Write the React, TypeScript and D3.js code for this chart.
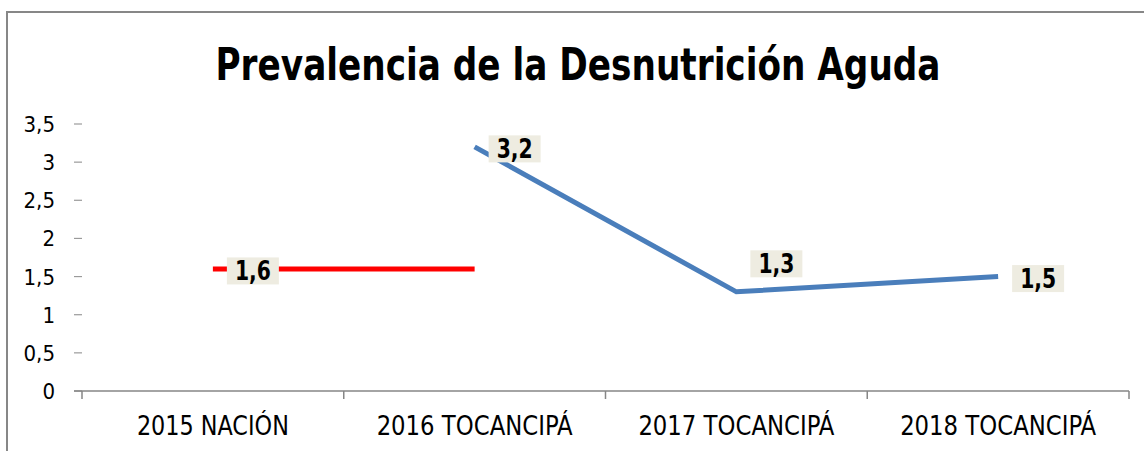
import React from "react";
import * as d3 from "d3";

const categories = ["2015 NACIÓN", "2016 TOCANCIPÁ", "2017 TOCANCIPÁ", "2018 TOCANCIPÁ"];
const nationValues: (number | null)[] = [1.6, 1.6, null, null];
const localValues: (number | null)[] = [null, 3.2, 1.3, 1.5];
const yTicks = [0, 0.5, 1, 1.5, 2, 2.5, 3, 3.5];
const labelsNation = [{ i: 0, v: 1.6, pos: "right" }];
const labelsLocal = [
  { i: 1, v: 3.2, pos: "right" },
  { i: 2, v: 1.3, pos: "above" },
  { i: 3, v: 1.5, pos: "right" },
];
const title = "Prevalencia de la Desnutrición Aguda";

const W = 1144, H = 451;
const FONT = "'DejaVu Sans Condensed', 'DejaVu Sans', sans-serif";

export default function App() {
  const x = d3.scaleBand<string>().domain(categories).range([82, 1129]);
  const y = d3.scaleLinear().domain([0, 3.5]).range([391, 124]);
  const cx = (i: number) => (x(categories[i]) ?? 0) + x.bandwidth() / 2;
  const fmt = (v: number) => String(v).replace(".", ",");

  const line = d3
    .line<number | null>()
    .defined((d) => d !== null)
    .x((_, i) => cx(i))
    .y((d) => y(d as number));

  const tickXs = categories.map((c) => x(c) ?? 0).concat([x.range()[1]]);

  const renderLabel = (l: { i: number; v: number; pos: string }, k: string) => {
    const px = cx(l.i);
    const py = y(l.v);
    const lx = px + 40;
    const ly = l.pos === "above" ? py - 28 : py + 2;
    return (
      <g key={k}>
        <rect x={lx - 26} y={ly - 13.5} width={52} height={27} fill="#EEECE1" />
        <text x={lx} y={ly + 9} textAnchor="middle" fontFamily={FONT} fontWeight="bold" fontSize={26}
          textLength={36} lengthAdjust="spacingAndGlyphs" fill="#000">
          {fmt(l.v)}
        </text>
      </g>
    );
  };

  return (
    <svg width={W} height={H} style={{ position: "absolute", left: 0, top: 0 }}>
      <rect x={0} y={0} width={W} height={H} fill="#fff" />
      <rect x={7} y={12} width={W + 20} height={H + 20} fill="#fff" stroke="#878787" strokeWidth={2} />
      <text x={578} y={80} textAnchor="middle" fontFamily={FONT} fontWeight="bold" fontSize={45}
        textLength={725} lengthAdjust="spacingAndGlyphs" fill="#000">{title}</text>

      {yTicks.map((t) => (
        <g key={t}>
          <line x1={74} x2={82} y1={y(t)} y2={y(t)} stroke="#9a9a9a" strokeWidth={1.2} />
          <text x={55} y={y(t) + 8} textAnchor="end" fontFamily={FONT} fontSize={22} fill="#000">{fmt(t)}</text>
        </g>
      ))}

      <line x1={74} x2={1129} y1={391} y2={391} stroke="#868686" strokeWidth={1.5} />
      {tickXs.map((tx, i) => (
        <line key={i} x1={tx} x2={tx} y1={391} y2={399} stroke="#868686" strokeWidth={1.5} />
      ))}
      {categories.map((c, i) => (
        <text key={c} x={cx(i)} y={435} textAnchor="middle" fontFamily={FONT} fontSize={26}
          textLength={c.length > 12 ? 196 : 152} lengthAdjust="spacingAndGlyphs" fill="#000">{c}</text>
      ))}

      <path d={line(nationValues) ?? ""} fill="none" stroke="#FF0000" strokeWidth={5} />
      <path d={line(localValues) ?? ""} fill="none" stroke="#4A7EBB" strokeWidth={5} strokeLinejoin="miter" />

      {labelsNation.map((l, k) => renderLabel(l, "n" + k))}
      {labelsLocal.map((l, k) => renderLabel(l, "l" + k))}
    </svg>
  );
}
